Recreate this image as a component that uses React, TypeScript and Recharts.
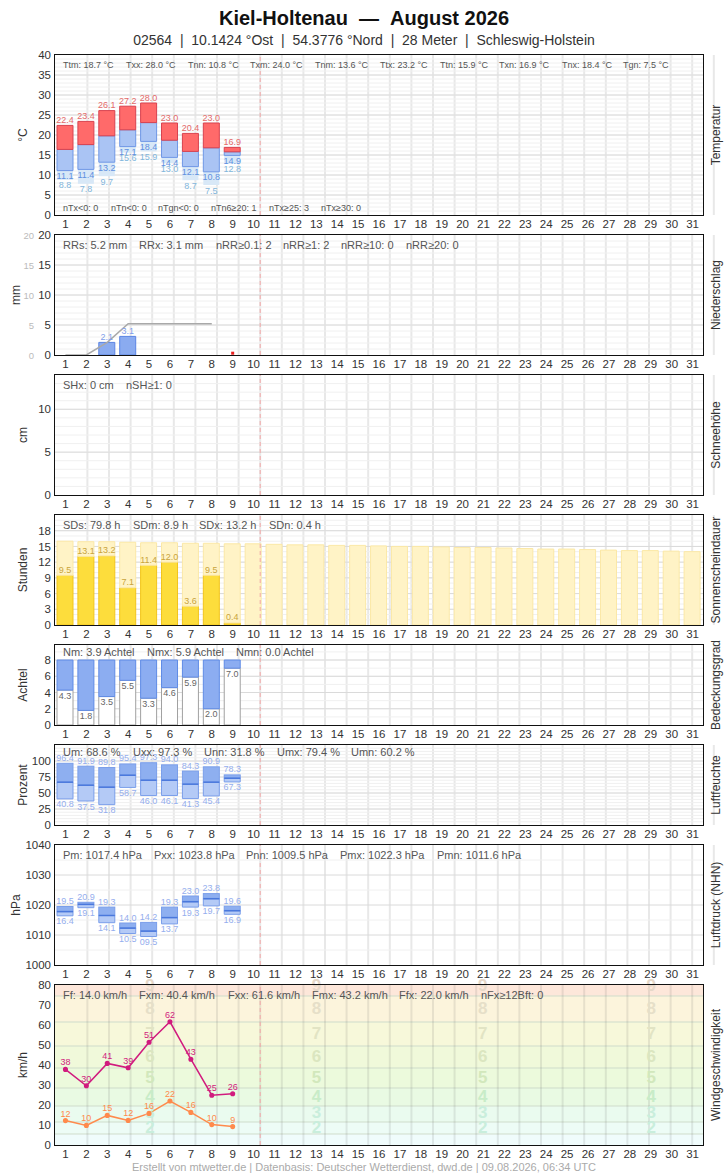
import React from 'react';
import {
  ComposedChart,
  Bar,
  Line,
  XAxis,
  YAxis,
  CartesianGrid,
  ReferenceLine,
  ReferenceArea,
  ReferenceDot,
  LabelList,
} from 'recharts';

// Tage im Monat (Kategorien der x-Achse)
const days = [1, 2, 3, 4, 5, 6, 7, 8, 9, 10, 11, 12, 13, 14, 15, 16, 17, 18, 19, 20, 21, 22, 23, 24, 25, 26, 27, 28, 29, 30, 31];

// Temperatur (°C)
const tMax = [22.4, 23.4, 26.1, 27.2, 28.0, 23.0, 20.4, 23.0, 16.9];
const tMean = [16.4, 17.6, 19.8, 21.3, 23.1, 18.7, 15.9, 16.8, 15.8];
const tMin = [11.1, 11.4, 13.2, 17.1, 18.4, 14.4, 12.1, 10.8, 14.9];
const tGround = [8.8, 7.8, 9.7, 15.6, 15.9, 13.0, 8.7, 7.5, 12.8];

// Niederschlag (mm)
const rain = [0, 0, 2.1, 3.1, 0, 0, 0, 0];
const rainSum = [0, 0, 2.1, 5.2, 5.2, 5.2, 5.2, 5.2];
const rainMissingDays = [9];

// Schneehöhe (cm)
const snow = [0, 0, 0, 0, 0, 0, 0, 0, 0];

// Sonnenscheindauer (h)
const sun = [9.5, 13.1, 13.2, 7.1, 11.4, 12.0, 3.6, 9.5, 0.4];
const sunPossible = [16.0, 15.9, 15.9, 15.8, 15.7, 15.7, 15.6, 15.6, 15.5, 15.5, 15.4, 15.3, 15.3, 15.2, 15.2, 15.1, 15.0, 15.0, 14.9, 14.8, 14.8, 14.7, 14.6, 14.5, 14.5, 14.4, 14.3, 14.2, 14.2, 14.1, 14.0];

// Bedeckungsgrad (Achtel)
const cloud = [4.3, 1.8, 3.5, 5.5, 3.3, 4.6, 5.9, 2.0, 7.0];

// Luftfeuchte (%)
const humMax = [96.4, 91.9, 89.8, 95.4, 97.3, 94.0, 84.3, 90.9, 78.3];
const humMean = [66.9, 62.2, 59.1, 77.8, 70.0, 70.0, 63.8, 66.9, 73.1];
const humMin = [40.8, 37.5, 31.8, 58.7, 46.0, 46.1, 41.3, 45.4, 67.3];

// Luftdruck (hPa)
const presMax = [1019.5, 1020.9, 1019.3, 1014.0, 1014.2, 1019.3, 1023.0, 1023.8, 1019.6];
const presMean = [1017.8, 1020.2, 1016.5, 1012.3, 1011.3, 1015.8, 1021.1, 1022.1, 1018.1];
const presMin = [1016.4, 1019.1, 1014.1, 1010.5, 1009.5, 1013.7, 1019.3, 1019.7, 1016.9];

// Wind (km/h)
const gust = [37.8, 29.6, 40.8, 38.6, 51.4, 61.6, 42.9, 24.9, 25.6];
const wind = [12.2, 9.8, 14.8, 12.3, 15.8, 22.0, 16.3, 10.2, 9.2];

// Beaufort-Bänder (km/h)
const bftBands = [
  { lo: 0, hi: 5.5, fill: '#f0fcfc' },
  { lo: 5.5, hi: 11.5, fill: '#edfcf6' },
  { lo: 11.5, hi: 19.5, fill: '#eafbef' },
  { lo: 19.5, hi: 28.5, fill: '#e9fae3' },
  { lo: 28.5, hi: 38.5, fill: '#ecfadc' },
  { lo: 38.5, hi: 49.5, fill: '#f0f9da' },
  { lo: 49.5, hi: 61.5, fill: '#f7f8da' },
  { lo: 61.5, hi: 74.5, fill: '#fcf4dc' },
  { lo: 74.5, hi: 80, fill: '#fde7da' },
];
const bftLabels = [
  { n: '2', y: 9, c: '#c9eedc' },
  { n: '3', y: 16.5, c: '#c9eedc' },
  { n: '4', y: 24.7, c: '#c8ecc8' },
  { n: '5', y: 34, c: '#d2e8bc' },
  { n: '6', y: 44.5, c: '#dbe6c0' },
  { n: '7', y: 56, c: '#e2e4c4' },
  { n: '8', y: 68.5, c: '#e6dfc8' },
  { n: '9', y: 80, c: '#e6d8c8' },
];
const bftColumns = [4.4, 12.1, 19.8, 27.6];

const FONT = '"Liberation Sans", Arial, Helvetica, sans-serif';
const W = 728;
const f1 = (v: number) => v.toFixed(1);

const rows = days.map((day, i) => {
  const t = i < tMax.length;
  const r = i < rain.length;
  const s = i < sun.length;
  const c = i < cloud.length;
  const u = i < humMax.length;
  const p = i < presMax.length;
  const w = i < gust.length;
  return {
    day,
    tBase: t ? tGround[i] : 0,
    tLow: t ? tMin[i] - tGround[i] : 0,
    tMid: t ? tMean[i] - tMin[i] : 0,
    tHigh: t ? tMax[i] - tMean[i] : 0,
    txLbl: t ? f1(tMax[i]) : undefined,
    tnLbl: t ? f1(tMin[i]) : undefined,
    tgLbl: t ? f1(tGround[i]) : undefined,
    rr: r ? rain[i] : undefined,
    rrLbl: r ? (rain[i] === 0 ? '0' : f1(rain[i])) : undefined,
    rrSum: i < rainSum.length ? rainSum[i] : undefined,
    rrMark: rainMissingDays.includes(day) ? 0.3 : undefined,
    sh: i < snow.length ? snow[i] : undefined,
    shLbl: i < snow.length ? String(snow[i]) : undefined,
    sd: s ? sun[i] : 0,
    sdRest: s ? sunPossible[i] - sun[i] : sunPossible[i],
    sdLbl: s ? f1(sun[i]) : undefined,
    nWhite: c ? cloud[i] : 0,
    nBlue: c ? 8 - cloud[i] : 0,
    nLbl: c ? f1(cloud[i]) : undefined,
    uBase: u ? humMin[i] : 0,
    uLow: u ? humMean[i] - humMin[i] : 0,
    uHigh: u ? humMax[i] - humMean[i] : 0,
    uxLbl: u ? f1(humMax[i]) : undefined,
    unLbl: u ? f1(humMin[i]) : undefined,
    pBase: p ? presMin[i] : 0,
    pLow: p ? presMean[i] - presMin[i] : 0,
    pHigh: p ? presMax[i] - presMean[i] : 0,
    pxLbl: p ? f1(presMax[i] - 1000).padStart(4, '0') : undefined,
    pnLbl: p ? f1(presMin[i] - 1000).padStart(4, '0') : undefined,
    fx: w ? gust[i] : undefined,
    fxLbl: w ? String(Math.round(gust[i])) : undefined,
    ff: w ? wind[i] : undefined,
    ffLbl: w ? String(Math.round(wind[i])) : undefined,
  };
});

const steps = (lo: number, hi: number, st: number) => {
  const out: number[] = [];
  for (let v = lo; v <= hi + 1e-9; v += st) out.push(Math.round(v * 100) / 100);
  return out;
};
const dayBounds = days.slice(1).map((d) => d - 0.5);

// Beschriftung über dem Balken / Punkt
const above = (color: string, off = 2.5) => (p: any) => {
  const vb = p.viewBox ?? p;
  if (p.value == null || vb == null || vb.y == null) return null;
  return (
    <text x={vb.x + (vb.width || 0) / 2} y={vb.y - off} textAnchor="middle" fontSize={9} fill={color} fontFamily={FONT}>
      {p.value}
    </text>
  );
};
// Beschriftung unter der Oberkante
const below = (color: string, off = 8.5) => (p: any) => {
  const vb = p.viewBox ?? p;
  if (p.value == null || vb == null || vb.y == null) return null;
  return (
    <text x={vb.x + (vb.width || 0) / 2} y={vb.y + off} textAnchor="middle" fontSize={9} fill={color} fontFamily={FONT}>
      {p.value}
    </text>
  );
};

const meanShape = (labelKey: string, fill: string, stroke: string, meanStroke: string) => (p: any) => {
  if (!p.payload || p.payload[labelKey] == null) return <g />;
  return (
    <g>
      <rect x={p.x} y={p.y} width={p.width} height={p.height} fill={fill} stroke={stroke} />
      <line x1={p.x} x2={p.x + p.width} y1={p.y + p.height} y2={p.y + p.height} stroke={meanStroke} strokeWidth={1.5} />
    </g>
  );
};

const redMark = (p: any) => {
  if (p.cy == null || p.value == null) return <g key={`m${p.index}`} />;
  return <rect key={`m${p.index}`} x={p.cx - 1.5} y={p.cy - 1.5} width={3} height={3} fill="#e82020" />;
};

const rainTick = (p: any) => (
  <g>
    <text x={p.x} y={p.y} dy={4} textAnchor="end" fontSize={11.5} fill="#333" fontFamily={FONT}>
      {p.payload.value}
    </text>
    <text x={p.x - 17} y={p.y} dy={3.5} textAnchor="end" fontSize={9.5} fill="#bbb" fontFamily={FONT}>
      {p.payload.value}
    </text>
  </g>
);

type PanelProps = {
  top: number;
  bottom: number;
  domain: [number, number];
  ticks: number[];
  minor: number[];
  major: number[];
  yTick?: any;
  vGrid?: boolean;
  children?: React.ReactNode;
};

function Panel({ top, bottom, domain, ticks, minor, major, yTick, vGrid = true, children }: PanelProps) {
  const h = bottom - top;
  const H = h + 32;
  return (
    <div style={{ position: 'absolute', left: 0, top: top - 10, width: W, height: H }}>
      <ComposedChart width={W} height={H} data={rows} margin={{ top: 10, right: 25, bottom: 0, left: 0 }} barSize={16} barGap={0}>
        <XAxis
          dataKey="day"
          scale="band"
          interval={0}
          tickSize={0}
          tickMargin={5}
          axisLine={false}
          tickLine={false}
          height={22}
          tick={{ fontSize: 11.5, fill: '#333' }}
        />
        <XAxis xAxisId="n" type="number" domain={[0.5, 31.5]} hide allowDataOverflow interval={0} />
        <YAxis
          width={55}
          domain={domain}
          ticks={ticks}
          interval={0}
          allowDataOverflow
          tickSize={0}
          tickMargin={4}
          axisLine={false}
          tickLine={false}
          tick={yTick ?? { fontSize: 11.5, fill: '#333' }}
        />
        {vGrid && <CartesianGrid xAxisId="n" horizontal={false} verticalValues={dayBounds} stroke="#e8e8e8" strokeWidth={2} />}
        {minor.length > 0 && <CartesianGrid vertical={false} horizontalValues={minor} stroke="#f0f0f0" />}
        {major.length > 0 && <CartesianGrid vertical={false} horizontalValues={major} stroke="#dadada" />}
        {children}
        <ReferenceLine xAxisId="n" x={9.5} stroke="#f2a7a7" strokeDasharray="4 3" />
      </ComposedChart>
      <div
        style={{
          position: 'absolute',
          left: 54.25,
          top: 9.25,
          width: 649.5,
          height: h + 1.5,
          border: '1.5px solid #111',
          boxSizing: 'border-box',
          pointerEvents: 'none',
        }}
      />
    </div>
  );
}

const Stat = ({ x, y, size = 11, children }: { x: number; y: number; size?: number; children: React.ReactNode }) => (
  <div style={{ position: 'absolute', left: x, top: y, transform: 'translateY(-50%)', fontSize: size, color: '#555', whiteSpace: 'nowrap', lineHeight: 1 }}>
    {children}
  </div>
);

const VLabel = ({ x, y, text }: { x: number; y: number; text: string }) => (
  <div
    style={{
      position: 'absolute',
      left: x,
      top: y,
      transform: 'translate(-50%, -50%) rotate(-90deg)',
      fontSize: 12,
      color: '#333',
      whiteSpace: 'nowrap',
      lineHeight: 1,
    }}
  >
    {text}
  </div>
);

const tempTop = [
  { x: 63, t: 'Ttm: 18.7 °C' },
  { x: 126, t: 'Txx: 28.0 °C' },
  { x: 188, t: 'Tnn: 10.8 °C' },
  { x: 250, t: 'Txm: 24.0 °C' },
  { x: 315, t: 'Tnm: 13.6 °C' },
  { x: 380, t: 'Ttx: 23.2 °C' },
  { x: 440, t: 'Ttn: 15.9 °C' },
  { x: 499, t: 'Txn: 16.9 °C' },
  { x: 562, t: 'Tnx: 18.4 °C' },
  { x: 623, t: 'Tgn: 7.5 °C' },
];
const tempBottom = [
  { x: 63, t: 'nTx<0: 0' },
  { x: 111, t: 'nTn<0: 0' },
  { x: 158, t: 'nTgn<0: 0' },
  { x: 211, t: 'nTn6≥20: 1' },
  { x: 269, t: 'nTx≥25: 3' },
  { x: 321, t: 'nTx≥30: 0' },
];

export default function App() {
  return (
    <div style={{ position: 'absolute', left: 0, top: 0, width: W, height: 1175, fontFamily: FONT, background: '#fff', overflow: 'hidden' }}>
      <div style={{ position: 'absolute', left: 0, width: W, top: 18, transform: 'translateY(-50%)', textAlign: 'center', fontSize: 20, fontWeight: 'bold', color: '#111', lineHeight: 1 }}>
        Kiel-Holtenau{'\u00a0\u00a0'}—{'\u00a0\u00a0'}August 2026
      </div>
      <div style={{ position: 'absolute', left: 0, width: W, top: 40, transform: 'translateY(-50%)', textAlign: 'center', fontSize: 14, color: '#333', lineHeight: 1 }}>
        02564{'\u00a0\u00a0'}|{'\u00a0\u00a0'}10.1424 °Ost{'\u00a0\u00a0'}|{'\u00a0\u00a0'}54.3776 °Nord{'\u00a0\u00a0'}|{'\u00a0\u00a0'}28 Meter{'\u00a0\u00a0'}|{'\u00a0\u00a0'}Schleswig-Holstein
      </div>

      {/* Temperatur */}
      <Panel top={55} bottom={215} domain={[0, 40]} ticks={[0, 5, 10, 15, 20, 25, 30, 35, 40]} minor={steps(1, 39, 1)} major={[5, 10, 15, 20, 25, 30, 35]}>
        <Bar dataKey="tBase" stackId="t" fill="transparent" isAnimationActive={false}>
          <LabelList dataKey="tgLbl" content={below('#82b6dc')} />
        </Bar>
        <Bar dataKey="tLow" stackId="t" fill="#d8e8f7" isAnimationActive={false}>
          <LabelList dataKey="tnLbl" content={below('#5f90e0')} />
        </Bar>
        <Bar dataKey="tMid" stackId="t" fill="#aac4f4" stroke="#6f97e6" isAnimationActive={false} />
        <Bar dataKey="tHigh" stackId="t" fill="#ff6a6a" stroke="#d8424f" isAnimationActive={false}>
          <LabelList dataKey="txLbl" content={above('#e46a6a')} />
        </Bar>
      </Panel>

      {/* Niederschlag */}
      <Panel top={235} bottom={355} domain={[0, 20]} ticks={[0, 5, 10, 15, 20]} minor={steps(1, 19, 1)} major={[5, 10, 15]} yTick={rainTick}>
        <Bar dataKey="rr" fill="#8aabf0" stroke="#5b84e4" isAnimationActive={false}>
          <LabelList dataKey="rrLbl" content={above('#7f9eea')} />
        </Bar>
        <Line dataKey="rrSum" type="linear" stroke="#a9a9a9" strokeWidth={1.5} dot={false} isAnimationActive={false} />
        <Line dataKey="rrMark" stroke="none" dot={redMark} isAnimationActive={false} />
      </Panel>

      {/* Schneehöhe */}
      <Panel top={375} bottom={495} domain={[0, 14]} ticks={[0, 5, 10]} minor={steps(1, 13, 1)} major={[5, 10]}>
        <Bar dataKey="sh" fill="#cfd8f0" isAnimationActive={false}>
          <LabelList dataKey="shLbl" content={above('#aaaaaa')} />
        </Bar>
      </Panel>

      {/* Sonnenscheindauer */}
      <Panel top={515} bottom={625} domain={[0, 21]} ticks={[0, 3, 6, 9, 12, 15, 18]} minor={steps(1, 20, 1)} major={[3, 6, 9, 12, 15, 18]}>
        <Bar dataKey="sd" stackId="s" fill="#fddd3c" stroke="#f2c51a" isAnimationActive={false}>
          <LabelList dataKey="sdLbl" content={above('#c9a43c')} />
        </Bar>
        <Bar dataKey="sdRest" stackId="s" fill="#fff3c6" stroke="#fbe8a6" isAnimationActive={false} />
      </Panel>

      {/* Bedeckungsgrad */}
      <Panel top={645} bottom={725} domain={[0, 9.85]} ticks={[0, 2, 4, 6, 8]} minor={steps(1, 9, 1)} major={[2, 4, 6, 8]}>
        <Bar dataKey="nWhite" stackId="c" fill="#ffffff" stroke="#a0a0a0" isAnimationActive={false}>
          <LabelList dataKey="nLbl" content={below('#666666')} />
        </Bar>
        <Bar dataKey="nBlue" stackId="c" fill="#8cadf1" stroke="#5f8be6" isAnimationActive={false} />
      </Panel>

      {/* Luftfeuchte */}
      <Panel top={745} bottom={825} domain={[0, 125]} ticks={[0, 25, 50, 75, 100]} minor={steps(5, 120, 5)} major={[25, 50, 75, 100]}>
        <Bar dataKey="uBase" stackId="u" fill="transparent" isAnimationActive={false}>
          <LabelList dataKey="unLbl" content={below('#95aeee')} />
        </Bar>
        <Bar dataKey="uLow" stackId="u" fill="#b4caf6" stroke="#7a9eea" isAnimationActive={false} />
        <Bar dataKey="uHigh" stackId="u" shape={meanShape('uxLbl', '#8eaff0', '#7a9eea', '#4a78dc')} isAnimationActive={false}>
          <LabelList dataKey="uxLbl" content={above('#95aeee')} />
        </Bar>
      </Panel>

      {/* Luftdruck */}
      <Panel top={845} bottom={965} domain={[1000, 1040]} ticks={[1000, 1010, 1020, 1030, 1040]} minor={[1005, 1015, 1025, 1035]} major={[1010, 1020, 1030]}>
        <Bar dataKey="pBase" stackId="p" fill="transparent" isAnimationActive={false}>
          <LabelList dataKey="pnLbl" content={below('#95aeee')} />
        </Bar>
        <Bar dataKey="pLow" stackId="p" fill="#b4caf6" stroke="#7a9eea" isAnimationActive={false} />
        <Bar dataKey="pHigh" stackId="p" shape={meanShape('pxLbl', '#8eaff0', '#7a9eea', '#4a78dc')} isAnimationActive={false}>
          <LabelList dataKey="pxLbl" content={above('#95aeee')} />
        </Bar>
      </Panel>

      {/* Windgeschwindigkeit */}
      <Panel top={985} bottom={1145} domain={[0, 80]} ticks={[0, 10, 20, 30, 40, 50, 60, 70, 80]} minor={[]} major={[]} vGrid={false}>
        {bftBands.map((b) => (
          <ReferenceArea key={`b${b.lo}`} y1={b.lo} y2={b.hi} fill={b.fill} fillOpacity={1} stroke="none" />
        ))}
        {bftBands.slice(1).map((b) => (
          <ReferenceLine key={`bl${b.lo}`} y={b.lo} stroke="#cfdccb" />
        ))}
        {dayBounds.map((x) => (
          <ReferenceLine key={`v${x}`} xAxisId="n" x={x} stroke="rgba(80,80,80,0.12)" strokeWidth={2} />
        ))}
        {bftColumns.map((cx) =>
          bftLabels.map((l) => (
            <ReferenceDot
              key={`n${cx}-${l.n}`}
              xAxisId="n"
              x={cx}
              y={l.y}
              r={0}
              ifOverflow="hidden"
              shape={(p: any) => (
                <text x={p.cx} y={p.cy} dy={6} textAnchor="middle" fontSize={17} fontWeight="bold" fill={l.c} fontFamily={FONT}>
                  {l.n}
                </text>
              )}
            />
          ))
        )}
        <Line dataKey="fx" type="linear" stroke="#d11b7e" strokeWidth={1.5} dot={{ r: 1.8, fill: '#d11b7e', stroke: '#d11b7e' }} isAnimationActive={false}>
          <LabelList dataKey="fxLbl" content={above('#d11b7e', 4)} />
        </Line>
        <Line dataKey="ff" type="linear" stroke="#ff8a4c" strokeWidth={1.5} dot={{ r: 1.8, fill: '#ff8a4c', stroke: '#ff8a4c' }} isAnimationActive={false}>
          <LabelList dataKey="ffLbl" content={above('#ff8a4c', 4)} />
        </Line>
      </Panel>

      {/* Kennwerte */}
      {tempTop.map((s) => (
        <Stat key={s.t} x={s.x} y={65} size={9}>{s.t}</Stat>
      ))}
      {tempBottom.map((s) => (
        <Stat key={s.t} x={s.x} y={208} size={9}>{s.t}</Stat>
      ))}
      <Stat x={63} y={245}>RRs: 5.2 mm</Stat>
      <Stat x={139} y={245}>RRx: 3.1 mm</Stat>
      <Stat x={216} y={245}>nRR≥0.1: 2</Stat>
      <Stat x={283} y={245}>nRR≥1: 2</Stat>
      <Stat x={341} y={245}>nRR≥10: 0</Stat>
      <Stat x={406} y={245}>nRR≥20: 0</Stat>

      <Stat x={63} y={385}>SHx: 0 cm</Stat>
      <Stat x={126} y={385}>nSH≥1: 0</Stat>

      <Stat x={63} y={525}>SDs: 79.8 h</Stat>
      <Stat x={133} y={525}>SDm: 8.9 h</Stat>
      <Stat x={199} y={525}>SDx: 13.2 h</Stat>
      <Stat x={269} y={525}>SDn: 0.4 h</Stat>

      <Stat x={63} y={652}>Nm: 3.9 Achtel</Stat>
      <Stat x={147} y={652}>Nmx: 5.9 Achtel</Stat>
      <Stat x={236} y={652}>Nmn: 0.0 Achtel</Stat>

      <Stat x={63} y={752}>Um: 68.6 %</Stat>
      <Stat x={133} y={752}>Uxx: 97.3 %</Stat>
      <Stat x={204} y={752}>Unn: 31.8 %</Stat>
      <Stat x={277} y={752}>Umx: 79.4 %</Stat>
      <Stat x={351} y={752}>Umn: 60.2 %</Stat>

      <Stat x={63} y={855}>Pm: 1017.4 hPa</Stat>
      <Stat x={154} y={855}>Pxx: 1023.8 hPa</Stat>
      <Stat x={246} y={855}>Pnn: 1009.5 hPa</Stat>
      <Stat x={340} y={855}>Pmx: 1022.3 hPa</Stat>
      <Stat x={437} y={855}>Pmn: 1011.6 hPa</Stat>

      <Stat x={63} y={995}>Ff: 14.0 km/h</Stat>
      <Stat x={139} y={995}>Fxm: 40.4 km/h</Stat>
      <Stat x={228} y={995}>Fxx: 61.6 km/h</Stat>
      <Stat x={312} y={995}>Fmx: 43.2 km/h</Stat>
      <Stat x={399} y={995}>Ffx: 22.0 km/h</Stat>
      <Stat x={481} y={995}>nFx≥12Bft: 0</Stat>

      {/* Achsentitel links */}
      <VLabel x={23} y={135} text="°C" />
      <VLabel x={16} y={295} text="mm" />
      <VLabel x={23} y={435} text="cm" />
      <VLabel x={23} y={570} text="Stunden" />
      <VLabel x={23} y={685} text="Achtel" />
      <VLabel x={23} y={785} text="Prozent" />
      <VLabel x={16} y={905} text="hPa" />
      <VLabel x={23} y={1065} text="km/h" />

      {/* Paneltitel rechts */}
      <VLabel x={716} y={135} text="Temperatur" />
      <VLabel x={716} y={295} text="Niederschlag" />
      <VLabel x={716} y={435} text="Schneehöhe" />
      <VLabel x={716} y={570} text="Sonnenscheindauer" />
      <VLabel x={716} y={685} text="Bedeckungsgrad" />
      <VLabel x={716} y={785} text="Luftfeuchte" />
      <VLabel x={716} y={905} text="Luftdruck (NHN)" />
      <VLabel x={716} y={1065} text="Windgeschwindigkeit" />

      <div style={{ position: 'absolute', left: 0, width: W, top: 1167, transform: 'translateY(-50%)', textAlign: 'center', fontSize: 11, color: '#aaa', lineHeight: 1 }}>
        Erstellt von mtwetter.de | Datenbasis: Deutscher Wetterdienst, dwd.de | 09.08.2026, 06:34 UTC
      </div>
    </div>
  );
}
